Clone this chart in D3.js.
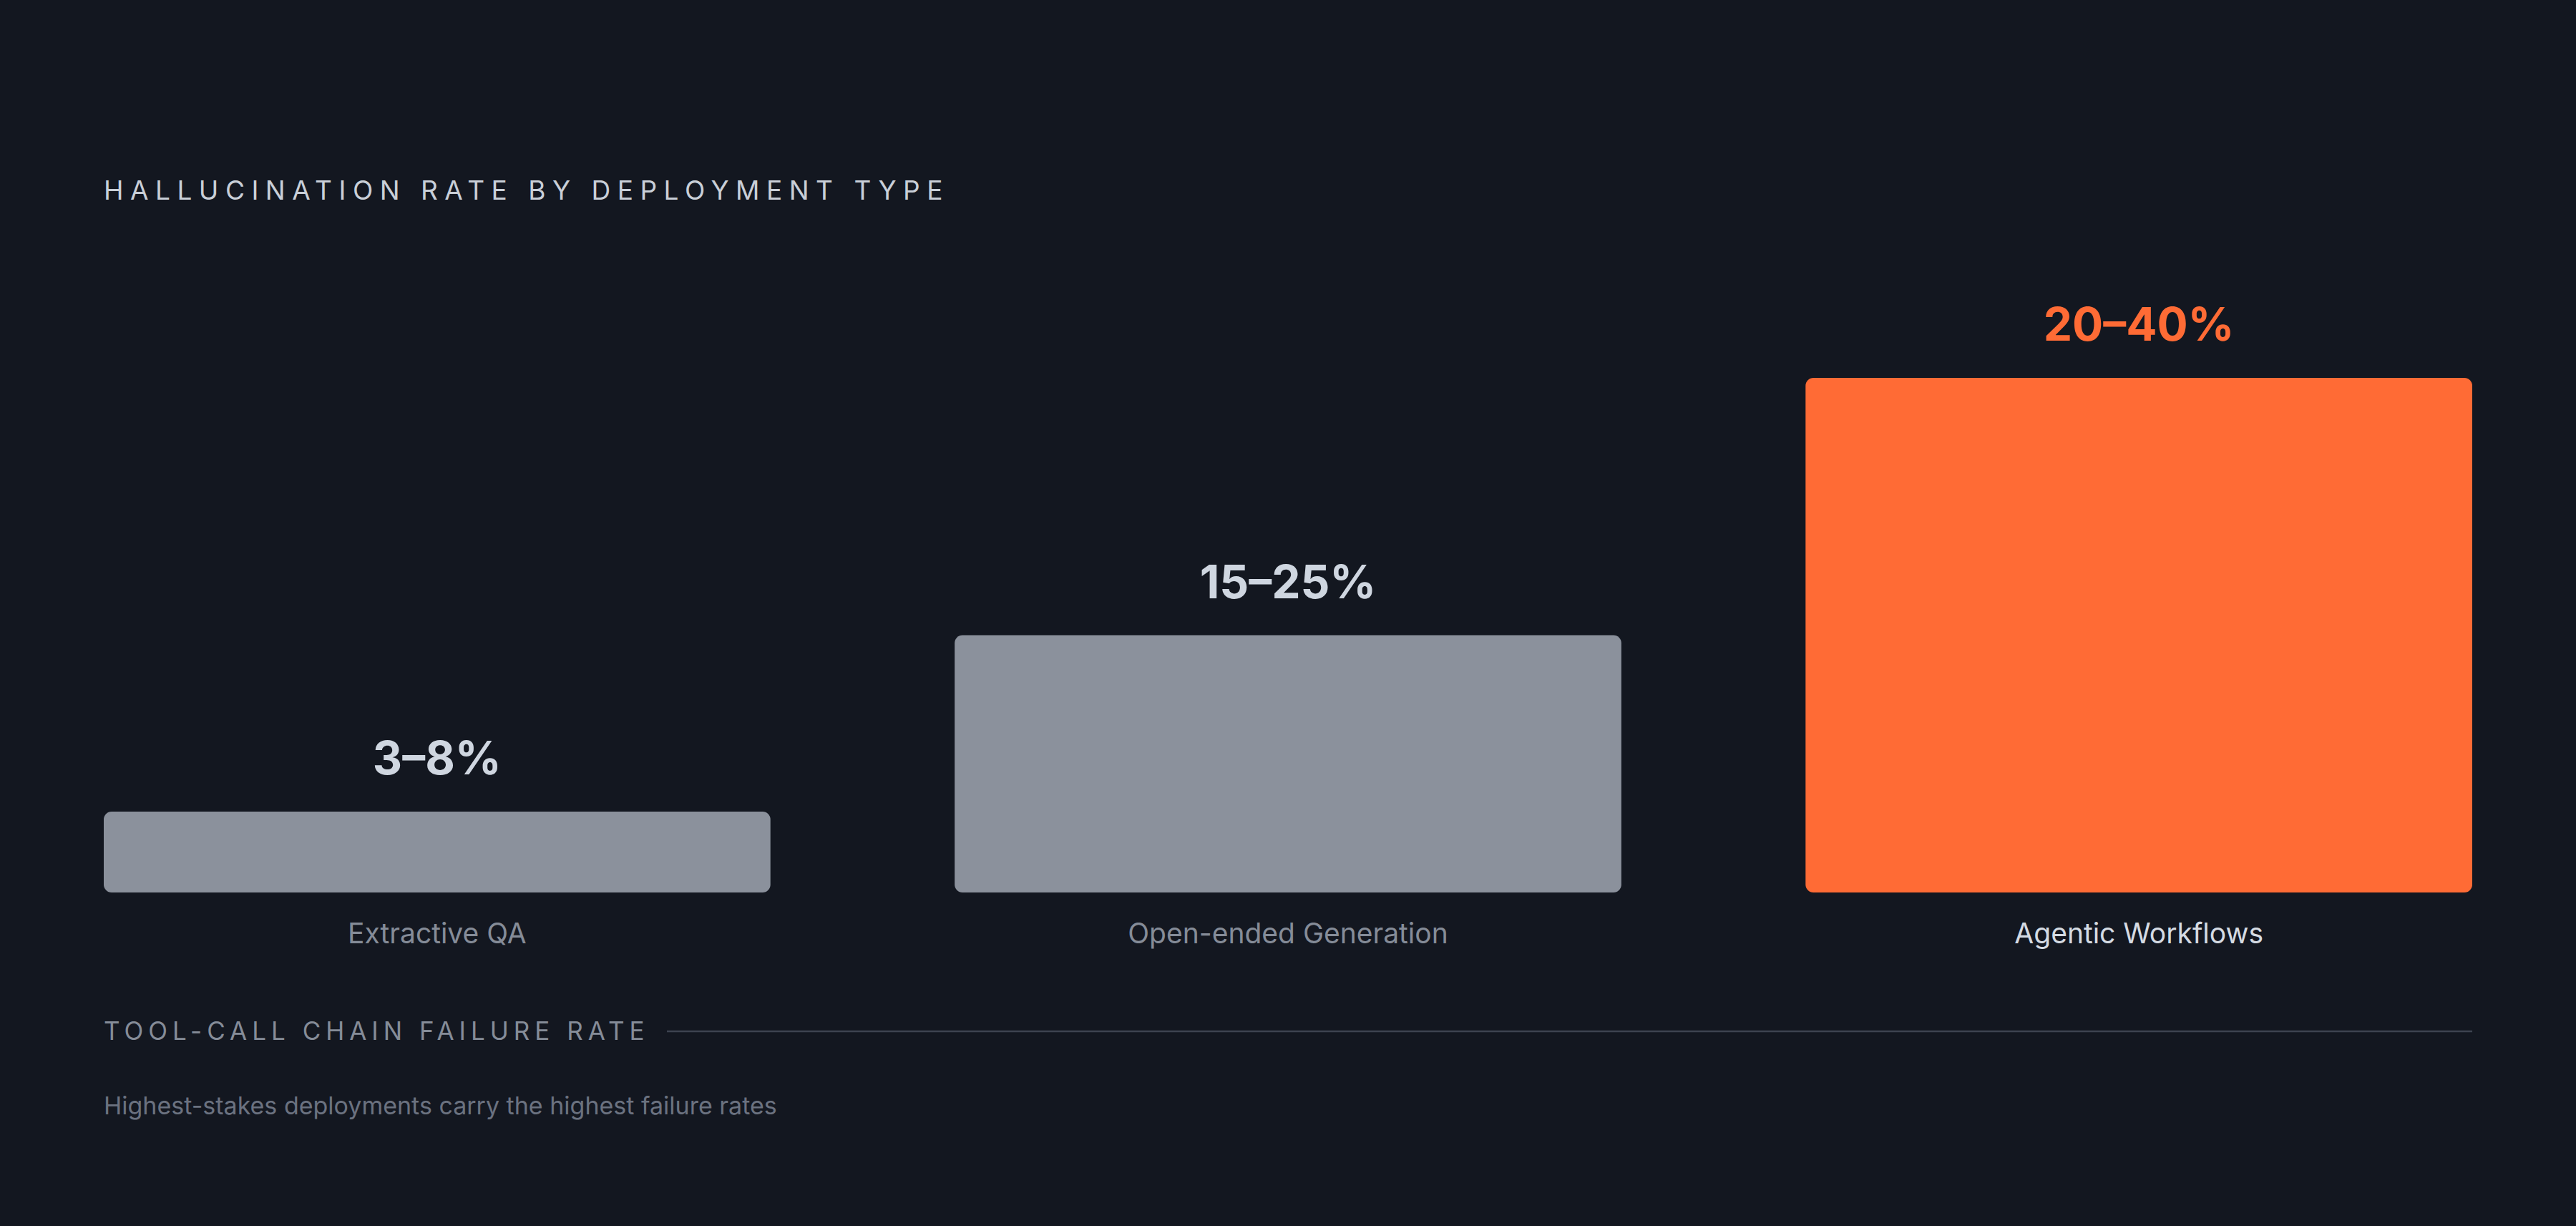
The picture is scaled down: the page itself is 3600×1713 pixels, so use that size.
<!DOCTYPE html>
<html><head><meta charset="utf-8">
<script src="https://cdn.jsdelivr.net/npm/d3@7"></script>
<style>html,body{margin:0;background:#131720;}svg{display:block;font-family:Inter,sans-serif;}</style>
</head><body>
<svg id="c" width="3600" height="1713"></svg>
<script>
const categories = ["Extractive QA", "Open-ended Generation", "Agentic Workflows"];
const values = [5.5, 17.5, 35];
const valueLabels = ["3–8%", "15–25%", "20–40%"];
const highlight = [false, false, true];

const svg = d3.select("#c");
svg.append("rect").attr("width",3600).attr("height",1713).attr("fill","#131720");

svg.append("text").attr("x",145).attr("y",279).attr("fill","#c9cfd8")
  .attr("font-size",37).attr("letter-spacing",9.5).text("HALLUCINATION RATE BY DEPLOYMENT TYPE");

const x = d3.scaleBand().domain(categories).range([145,3455]).paddingInner(0.2165).paddingOuter(0);
const y = d3.scaleLinear().domain([0,35]).range([1247,528]);

const g = svg.append("g");
g.selectAll("rect.bar").data(categories).join("rect").attr("class","bar")
  .attr("x",d=>x(d)).attr("width",x.bandwidth())
  .attr("y",(d,i)=>y(values[i])).attr("height",(d,i)=>y(0)-y(values[i]))
  .attr("rx",11).attr("fill",(d,i)=>highlight[i]?"#ff6b35":"#8b919c");

g.selectAll("text.val").data(categories).join("text").attr("class","val")
  .attr("x",d=>x(d)+x.bandwidth()/2).attr("y",(d,i)=>y(values[i])-52)
  .attr("text-anchor","middle").attr("font-size",64).attr("font-weight",700)
  .attr("fill",(d,i)=>highlight[i]?"#ff6b35":"#cfd6e0").text((d,i)=>valueLabels[i]);

g.selectAll("text.cat").data(categories).join("text").attr("class","cat")
  .attr("x",d=>x(d)+x.bandwidth()/2).attr("y",1318)
  .attr("text-anchor","middle").attr("font-size",39)
  .attr("fill",(d,i)=>highlight[i]?"#d5dbe3":"#858c98").text(d=>d);

svg.append("text").attr("x",145).attr("y",1453).attr("fill","#858c98")
  .attr("font-size",35).attr("letter-spacing",7).text("TOOL-CALL CHAIN FAILURE RATE");
svg.append("line").attr("x1",932).attr("x2",3455).attr("y1",1441).attr("y2",1441)
  .attr("stroke","#3d4350").attr("stroke-width",2.5);

svg.append("text").attr("x",145).attr("y",1557).attr("fill","#6b7280")
  .attr("font-size",34).text("Highest-stakes deployments carry the highest failure rates");
</script>
</body></html>
